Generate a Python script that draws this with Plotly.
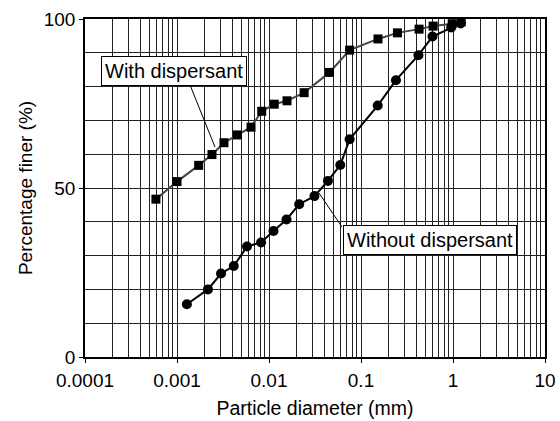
import plotly.graph_objects as go

# With dispersant (squares)
with_x = [0.00059, 0.001, 0.00172, 0.0024, 0.00324, 0.00453, 0.00638, 0.00834, 0.0114, 0.0157,
          0.0241, 0.0455, 0.0752, 0.153, 0.249, 0.428, 0.608, 0.98, 1.23]
with_y = [46.7, 51.9, 56.7, 59.9, 63.4, 65.7, 68.0, 72.7, 74.8, 75.8,
          78.2, 84.2, 90.8, 94.1, 95.9, 97.0, 97.9, 98.6, 99.2]

# Without dispersant (circles)
without_x = [0.00128, 0.00217, 0.00301, 0.00414, 0.00577, 0.0082, 0.0112, 0.0155, 0.0213, 0.0312,
             0.0437, 0.0595, 0.0752, 0.152, 0.24, 0.421, 0.598, 0.955, 1.21]
without_y = [15.6, 20.0, 24.7, 26.9, 32.7, 33.9, 37.3, 40.7, 45.2, 47.6,
             52.1, 56.8, 64.4, 74.4, 81.9, 89.3, 94.8, 97.5, 98.7]

x_tickvals = [0.0001, 0.001, 0.01, 0.1, 1, 10]
x_ticktext = ["0.0001", "0.001", "0.01", "0.1", "1", "10"]
y_tickvals = [0, 50, 100]
y_ticktext = ["0", "50", "100"]

FONT = "Liberation Sans, Arial, sans-serif"
GRID = "#222222"

fig = go.Figure()
fig.add_trace(go.Scatter(
    x=with_x, y=with_y, mode="lines+markers", name="With dispersant",
    line=dict(color="#444444", width=2),
    marker=dict(symbol="square", size=9, color="black"),
))
fig.add_trace(go.Scatter(
    x=without_x, y=without_y, mode="lines+markers", name="Without dispersant",
    line=dict(color="black", width=2),
    marker=dict(symbol="circle", size=10, color="black"),
))

fig.update_layout(
    width=560, height=421,
    margin=dict(l=85, r=15, t=19, b=64, autoexpand=False),
    paper_bgcolor="white", plot_bgcolor="white",
    showlegend=False,
    font=dict(family=FONT, size=19, color="black"),
    xaxis=dict(
        type="log", range=[-4, 1], automargin=False,
        tickmode="array", tickvals=x_tickvals, ticktext=x_ticktext,
        ticks="outside", ticklen=4, tickcolor="black", tickwidth=1,
        showgrid=True, gridcolor=GRID, gridwidth=1.2,
        minor=dict(dtick="D1", showgrid=True, gridcolor=GRID, gridwidth=1.2, ticks=""),
        showline=True, linecolor="black", linewidth=1.5, mirror=True,
        zeroline=False,
        ticklabelstandoff=1,
        title=dict(text="Particle diameter (mm)", font=dict(size=19.5), standoff=12),
        tickfont=dict(size=19),
    ),
    yaxis=dict(
        range=[0, 100], automargin=False,
        tickmode="array", tickvals=y_tickvals, ticktext=y_ticktext,
        ticks="outside", ticklen=4, tickcolor="black", tickwidth=1,
        showgrid=True, gridcolor=GRID, gridwidth=1.2,
        minor=dict(dtick=10, showgrid=True, gridcolor=GRID, gridwidth=1.2, ticks=""),
        showline=True, linecolor="black", linewidth=1.5, mirror=True,
        zeroline=False,
        title=dict(text="Percentage finer (%)", font=dict(size=19), standoff=6),
        tickfont=dict(size=19),
    ),
    shapes=[
        dict(type="line", xref="paper", yref="paper",
             x0=0.2283, y0=0.8047, x1=0.2826, y1=0.6213,
             line=dict(color="black", width=1)),
        dict(type="line", xref="paper", yref="paper",
             x0=0.5087, y0=0.4852, x1=0.5587, y1=0.3846,
             line=dict(color="black", width=1)),
    ],
    annotations=[
        dict(text="With dispersant", xref="paper", yref="paper",
             x=0.1935, y=0.846, xanchor="center", yanchor="middle",
             showarrow=False, bgcolor="white", bordercolor="black", borderwidth=1,
             borderpad=3, font=dict(size=20, family=FONT, color="black")),
        dict(text="Without dispersant", xref="paper", yref="paper",
             x=0.7493, y=0.3453, xanchor="center", yanchor="middle",
             showarrow=False, bgcolor="white", bordercolor="black", borderwidth=1,
             borderpad=3, font=dict(size=20, family=FONT, color="black")),
    ],
)

post = (
    "var h=document.documentElement, b=document.body;"
    "h.style.margin='0';h.style.padding='0';h.style.overflow='hidden';"
    "b.style.margin='0';b.style.padding='0';b.style.overflow='hidden';"
)
fig.write_html("out.html", config={"displayModeBar": False}, post_script=post)
